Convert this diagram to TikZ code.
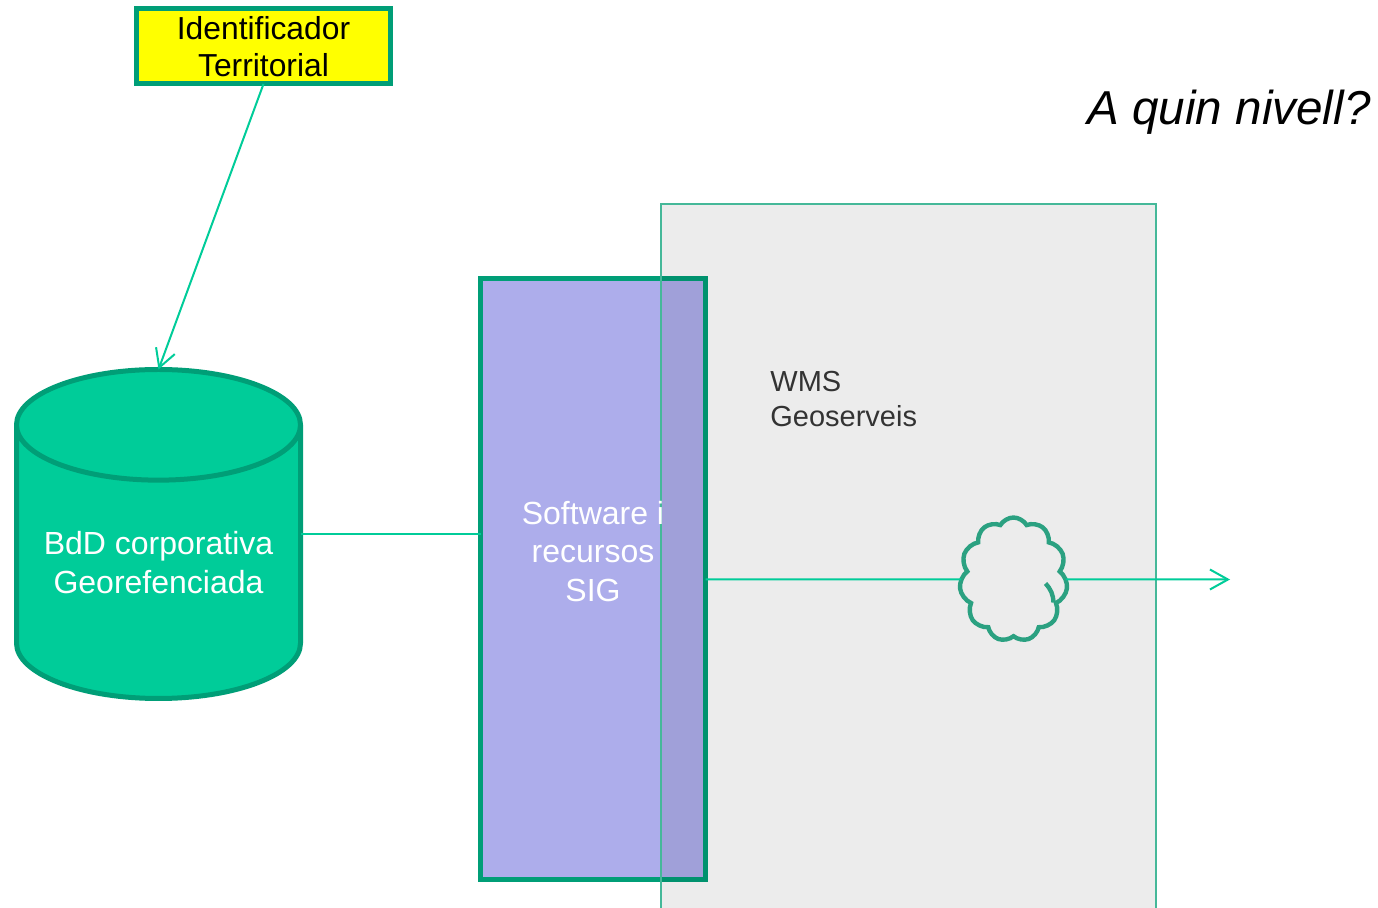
\documentclass[tikz,border=0pt]{standalone}
\usepackage{fontspec}
\setmainfont{Liberation Sans}
\usetikzlibrary{arrows.meta,shapes.geometric,shapes.symbols}
\definecolor{verd}{HTML}{00CC99}
\definecolor{verdfosc}{HTML}{009E77}
\definecolor{lila}{HTML}{ADADEB}
\definecolor{vora}{HTML}{45B899}
\definecolor{nuvolvora}{HTML}{2FAE8C}
\definecolor{groc}{HTML}{FFFF00}
\tikzset{
	enllac/.style={draw=verd, line width=1pt},
	fletxa/.style={enllac, -{Straight Barb[length=9pt,width=10pt]}},
	rotul/.style={align=center, inner sep=0pt}
}
\begin{document}
\begin{tikzpicture}[x=0.5pt,y=-0.5pt]
		
		\useasboundingbox (0,0) rectangle (1378,908);
		
		% Identificador
		\node [draw=verdfosc,
		fill=groc,
		line width=2.5pt,
		outer sep=0pt,
		minimum width=127pt,
		minimum height=37.5pt,
		rotul,
		font=\fontsize{15.9}{18.5}\selectfont] (id) at (263.5,46.5) {Identificador\\Territorial};
		
		\node [rotul,
		font=\fontsize{23.8}{28}\selectfont\itshape] (quin) at (1229,112) {A quin nivell?};
		
		% BdD
		\node [cylinder,
		shape border rotate=90,
		aspect=8.3,
		anchor=shape center,
		draw=verdfosc,
		line width=2.5pt,
		fill=verd,
		outer sep=0pt,
		minimum width=142pt,
		minimum height=164.5pt] (bdd) at (158.5,534) {};
		
		\node [rotul,
		text=white,
		font=\fontsize{16}{19.5}\selectfont] (bddtext) at (158.5,563) {BdD corporativa\\Georefenciada};
		
		% Software
		\node [draw=verdfosc,
		fill=lila,
		line width=2.5pt,
		outer sep=0pt,
		minimum width=112.5pt,
		minimum height=300.5pt] (soft) at (593,579.5) {};
		
		% Cloud
		\node [cloud,
		cloud puffs=11,
		cloud puff arc=120,
		aspect=0.9,
		draw=nuvolvora,
		line width=2.2pt,
		outer sep=0pt,
		minimum width=54pt,
		minimum height=62pt] (nuvol) at (1013.5,579.5) {};
		
		\draw [nuvolvora, line width=2.2pt] (nuvol.center) ++(32,4) to[bend left=20] ++(8,19);
		
		% WMS
		\node [draw=vora,
		fill=black,
		fill opacity=0.075,
		draw opacity=1,
		line width=0.7pt,
		outer sep=0pt,
		minimum width=247.5pt,
		minimum height=355pt] (wms) at (908.5,559) {};
		
		\node [rotul,
		anchor=west,
		align=left,
		text=black!80,
		font=\fontsize{14.5}{17.5}\selectfont] (geo) at (770,399.5) {WMS\\Geoserveis};
		
		\begin{scope}
			\clip (soft.north west) rectangle (wms.west |- soft.south);
			\node [rotul,
			text=white,
			font=\fontsize{16}{19.3}\selectfont] (softtext) at (593,551.5) {Software i\\recursos\\SIG};
		\end{scope}
		
		% Connectors
		\coordinate (sortida) at (1230,579.5);
		
		\draw [fletxa] (id.south) -- (bdd.north);
		\draw [enllac] (bdd.shape center -| bdd.east) -- (bdd.shape center -| soft.west);
		\draw [enllac] (soft.east) -- (nuvol.west);
		\draw [fletxa] (nuvol.east) -- (sortida);
		
	\end{tikzpicture}
\end{document}
